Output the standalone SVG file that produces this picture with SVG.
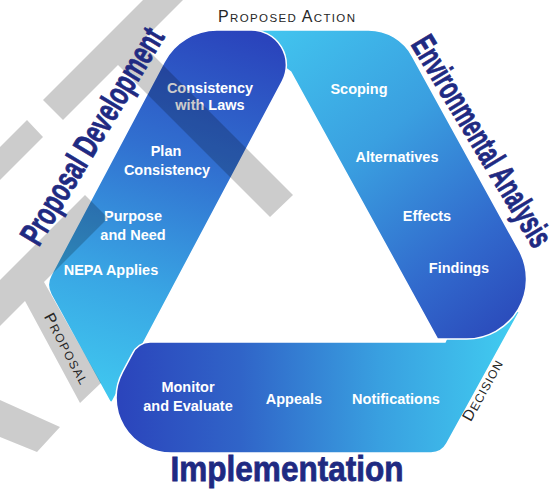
<svg xmlns="http://www.w3.org/2000/svg" width="560" height="494" viewBox="0 0 560 494">
<defs>
  <linearGradient id="gLeft" gradientUnits="userSpaceOnUse" x1="235" y1="30" x2="110" y2="405">
    <stop offset="0" stop-color="#2a44bc"/>
    <stop offset="0.35" stop-color="#3170d0"/>
    <stop offset="0.7" stop-color="#39a6e4"/>
    <stop offset="1" stop-color="#40c9f0"/>
  </linearGradient>
  <linearGradient id="gRight" gradientUnits="userSpaceOnUse" x1="260" y1="30" x2="520" y2="338">
    <stop offset="0" stop-color="#42c6ef"/>
    <stop offset="0.4" stop-color="#3a9fe0"/>
    <stop offset="0.75" stop-color="#3168cc"/>
    <stop offset="1" stop-color="#2a46b8"/>
  </linearGradient>
  <linearGradient id="gImpl" gradientUnits="userSpaceOnUse" x1="120" y1="0" x2="520" y2="0">
    <stop offset="0" stop-color="#2b45bc"/>
    <stop offset="0.3" stop-color="#3064c8"/>
    <stop offset="0.65" stop-color="#39a0e0"/>
    <stop offset="1" stop-color="#41cef1"/>
  </linearGradient>
  <clipPath id="rbClip"><rect x="400" y="280" width="160" height="70"/></clipPath>
</defs>
<style>
  .band{stroke:#ffffff;stroke-width:1.5}
  .t{font-family:"Liberation Sans",Arial,sans-serif;font-weight:bold;font-size:14.5px;fill:#ffffff;text-anchor:middle}
  .big{font-family:"Liberation Sans",Arial,sans-serif;font-weight:bold;fill:#1f2a82;stroke:#1f2a82;stroke-width:0.8;text-anchor:middle}
  .sc{font-family:"Liberation Sans",Arial,sans-serif;fill:#262626}
  .hatch{fill:#000000;fill-opacity:0.2}
</style>
<rect width="560" height="494" fill="#ffffff"/>

<g id="environmental-analysis">
  <path id="rbShape" class="band" fill="url(#gRight)" d="M 235 30 L 368 30 A 50 50 0 0 1 412.5 56.3 L 518.3 248.7 A 60 60 0 0 1 465.5 339 L 437.5 339 L 290.7 72 Z"/>
  <text class="t" x="359" y="94">Scoping</text>
  <text class="t" x="397" y="162">Alternatives</text>
  <text class="t" x="427" y="221">Effects</text>
  <text class="t" x="459" y="273">Findings</text>
</g>

<g id="proposal-development">
  <path class="band" fill="url(#gLeft)" d="M 217 30 L 251.3 30 A 35 35 0 0 1 282.3 81.4 L 112.9 400.5 Q 111.2 404 109.3 400.5 L 51 294.5 A 20 20 0 0 1 50.9 275.4 L 164.2 61.8 A 60 60 0 0 1 217 30 Z"/>
  <text class="t" x="210" y="93">Consistency</text>
  <text class="t" x="210" y="110">with Laws</text>
  <text class="t" x="166" y="156">Plan</text>
  <text class="t" x="167" y="175">Consistency</text>
  <text class="t" x="133" y="221">Purpose</text>
  <text class="t" x="133" y="240">and Need</text>
  <text class="t" x="111" y="275">NEPA Applies</text>
</g>

<g id="implementation">
  <path class="band" fill="url(#gImpl)" d="M 150 342 L 445 342 L 455 320 L 519.8 311 L 446.8 443.7 A 18 18 0 0 1 431.1 453 L 171.2 453 A 55 55 0 0 1 122.5 372.2 L 132.4 353.6 A 20 20 0 0 1 150 342 Z"/>
  <text class="t" x="188" y="392">Monitor</text>
  <text class="t" x="188" y="411">and Evaluate</text>
  <text class="t" x="294" y="404">Appeals</text>
  <text class="t" x="396" y="404">Notifications</text>
</g>

<use href="#rbShape" clip-path="url(#rbClip)"/>

<path class="hatch" d="M 43 100 L 143 0 L 183 0 L 140.5 42.5 L 293 195 L 270 217 L 118 65 L 63 120 Z M 0 147 L 27 120 L 43 137 L 0 180 Z M 0 280 L 85 195 L 108 218 L 44 282 L 101 383 L 80 403 L 25 301 L 0 326 Z M 0 400 L 60 427 L 37 452 L 0 437 Z"/>

<g id="titles">
  <text class="big" font-size="34" textLength="246" lengthAdjust="spacingAndGlyphs" transform="translate(102 142) rotate(-59)">Proposal Development</text>
  <text class="big" font-size="34" textLength="240" lengthAdjust="spacingAndGlyphs" transform="translate(472 147) rotate(59)">Environmental Analysis</text>
  <text class="big" font-size="35" x="287" y="481" textLength="233" lengthAdjust="spacingAndGlyphs">Implementation</text>
</g>

<g id="transitions">
  <text class="sc" x="218" y="22" textLength="137" lengthAdjust="spacing"><tspan font-size="16">P</tspan><tspan font-size="11.5">ROPOSED</tspan><tspan font-size="11.5"> </tspan><tspan font-size="16">A</tspan><tspan font-size="11.5">CTION</tspan></text>
  <text class="sc" text-anchor="middle" textLength="78" lengthAdjust="spacing" transform="translate(62 351) rotate(62)"><tspan font-size="15.5">P</tspan><tspan font-size="12">ROPOSAL</tspan></text>
  <text class="sc" text-anchor="middle" textLength="67" lengthAdjust="spacing" transform="translate(487 393) rotate(-61)"><tspan font-size="15.5">D</tspan><tspan font-size="12">ECISION</tspan></text>
</g>
</svg>
